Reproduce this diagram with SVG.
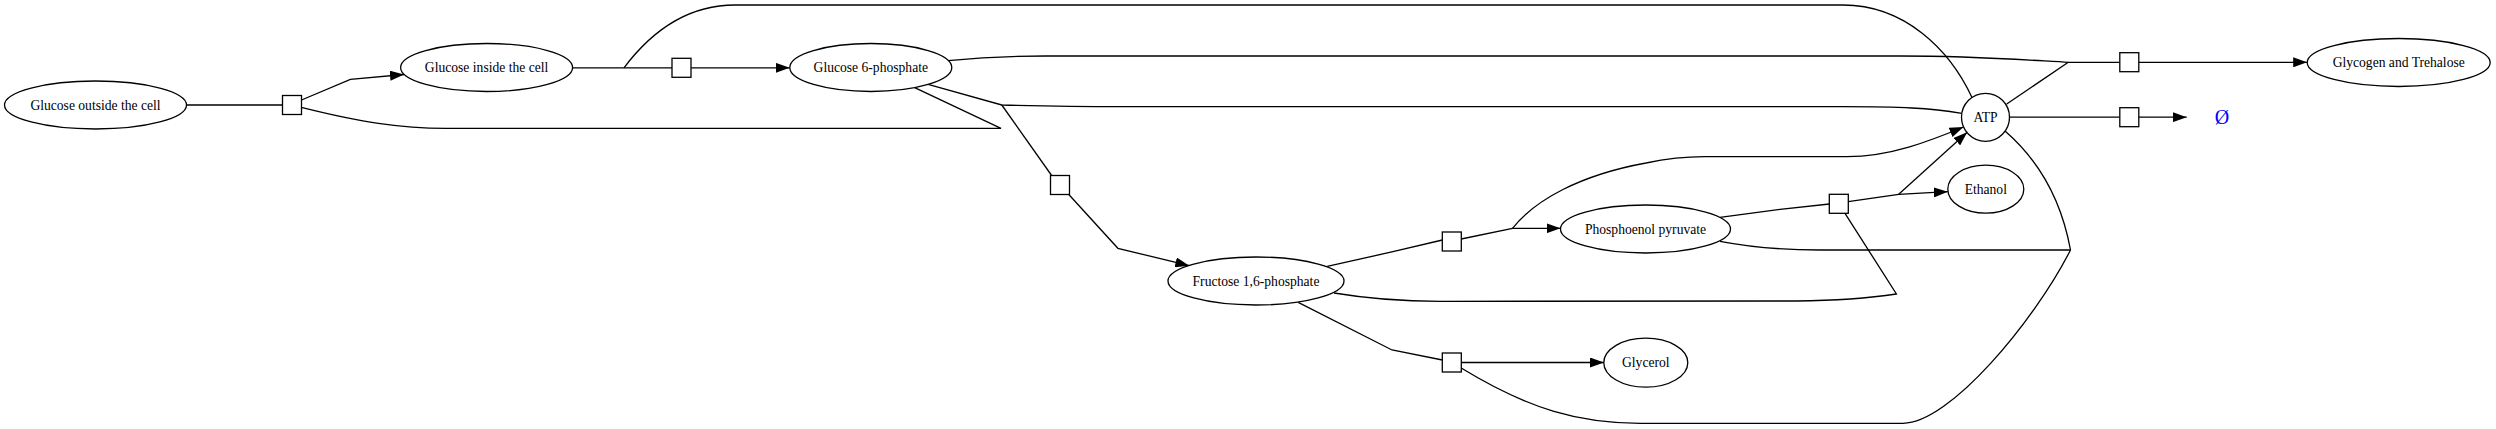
<svg xmlns="http://www.w3.org/2000/svg" width="2496" height="429" viewBox="0 0 2496 429">
<style>
.node ellipse, .node circle { fill: #fff; stroke: #000; stroke-width: 1.3; }
.rxn rect { fill: #fff; stroke: #000; stroke-width: 1.3; }
.lbl { font-family: "Liberation Serif", "Times New Roman", serif; font-size: 13.6px; fill: #000; text-anchor: middle; }
.edges path { fill: none; stroke: #000; stroke-width: 1.3; }
.arr { marker-end: url(#ah); }
</style>
<defs>
<marker id="ah" markerUnits="userSpaceOnUse" markerWidth="14" markerHeight="10" refX="14" refY="5" orient="auto">
<path d="M0,0 L14,5 L0,10 z" fill="#000"/>
</marker>
</defs>
<rect width="2496" height="429" fill="#fff"/>
<g id="connectors" class="edges">
<path d="M186.5,105 L282.5,105"/>
<path class="arr" d="M301.5,100 L350.4,79.3 L404,74.5"/>
<path d="M301.3,107.3 C360,122 400,128.3 446,128.3 L1001,128.3 L914.7,87.7"/>
<path d="M572.8,67.8 L672,67.8"/>
<path d="M624,67.8 C660,20 700,5 735,5 L1843,5 C1905,5 1950,50 1972,97.5"/>
<path class="arr" d="M691,67.8 L789.7,67.8"/>
<path d="M948.2,60.7 C980,57.5 1010,56 1046,56 L1900,56 C1980,56 2040,61 2068.3,62.3 L2119.5,62.3"/>
<path d="M2006.7,104 L2068.3,62.3"/>
<path class="arr" d="M2139,62.3 L2307.2,62.3"/>
<path d="M928.1,84.3 L1001.8,105 C1040,106 1080,106.7 1120,106.7 L1843,106.7 C1900,106.7 1930,108 1961.8,113.3"/>
<path d="M1001.8,105 L1052,176"/>
<path class="arr" d="M1068.8,194.5 L1117.9,248.3 L1189.3,265.7"/>
<path d="M1327.2,266.3 L1392.9,251.7 L1442.4,240"/>
<path class="arr" d="M1461.2,239 L1512.5,228.3 L1560.5,228.3"/>
<path class="arr" d="M1512.5,228.3 C1535,200 1580,175 1646,163 C1670,158 1690,156.7 1704.5,156.7 L1847,156.7 C1890,156.7 1930,141 1963.5,127"/>
<path d="M1720,217.3 L1780,209.3 L1829.5,204"/>
<path class="arr" d="M1848.2,201.7 L1898.7,194.3 L1947.8,191.7"/>
<path class="arr" d="M1898.7,194.3 L1967.2,132.3"/>
<path d="M1334,293 C1370,299 1400,301.3 1440,301.3 L1796,301 C1840,300.5 1870,298 1896.4,294 L1845,213.3"/>
<path d="M1298.2,302.3 L1392,350 L1442.4,360"/>
<path class="arr" d="M1461.2,362.5 L1604,362.5"/>
<path d="M1461.2,368 C1530,410 1580,423.3 1640,423.3 L1903,423.3 C1950,423.3 2035,320 2070.5,250"/>
<path d="M1720,241.3 C1750,247 1780,250 1820,250 L2070.5,250"/>
<path d="M2070.5,250 C2065,220 2050,170 2005,131"/>
<path d="M2009.5,117.2 L2119.5,117.2"/>
<path class="arr" d="M2139,117.2 L2186.7,117.2"/>
</g>
<g id="glucose_outside" class="node"><ellipse cx="95.5" cy="105" rx="91" ry="24"/><text class="lbl" x="95.5" y="109.5">Glucose outside the cell</text></g>
<g id="glucose_inside" class="node"><ellipse cx="486.6" cy="67.5" rx="86" ry="24"/><text class="lbl" x="486.6" y="72">Glucose inside the cell</text></g>
<g id="glucose_6p" class="node"><ellipse cx="870.8" cy="67.5" rx="81" ry="24"/><text class="lbl" x="870.8" y="72">Glucose 6-phosphate</text></g>
<g id="fructose_16p" class="node"><ellipse cx="1256" cy="281" rx="88" ry="24"/><text class="lbl" x="1256" y="285.5">Fructose 1,6-phosphate</text></g>
<g id="pep" class="node"><ellipse cx="1645.5" cy="229" rx="85" ry="24"/><text class="lbl" x="1645.5" y="233.5">Phosphoenol pyruvate</text></g>
<g id="glycerol" class="node"><ellipse cx="1645.8" cy="362.7" rx="42" ry="24.5"/><text class="lbl" x="1645.8" y="367.2">Glycerol</text></g>
<g id="atp" class="node"><circle cx="1985.5" cy="117.3" r="24"/><text class="lbl" x="1985.5" y="121.8">ATP</text></g>
<g id="ethanol" class="node"><ellipse cx="1985.8" cy="189.2" rx="38" ry="24"/><text class="lbl" x="1985.8" y="193.7">Ethanol</text></g>
<g id="glycogen" class="node"><ellipse cx="2398.7" cy="62.5" rx="91.5" ry="24"/><text class="lbl" x="2398.7" y="67">Glycogen and Trehalose</text></g>
<g id="empty" class="node"><text x="2222" y="123.5" font-family="Liberation Serif, Times New Roman, serif" font-size="20" fill="#0000ff" text-anchor="middle">Ø</text></g>
<g id="r1" class="rxn"><rect x="282.5" y="95.5" width="19" height="19"/></g>
<g id="r2" class="rxn"><rect x="672" y="58.3" width="19" height="19"/></g>
<g id="r3" class="rxn"><rect x="1050.5" y="175.5" width="19" height="19"/></g>
<g id="r4" class="rxn"><rect x="1442.3" y="232" width="19" height="19"/></g>
<g id="r5" class="rxn"><rect x="1829.3" y="194.3" width="19" height="19"/></g>
<g id="r6" class="rxn"><rect x="1442.3" y="353" width="19" height="19"/></g>
<g id="r7" class="rxn"><rect x="2119.8" y="52.7" width="19" height="19"/></g>
<g id="r8" class="rxn"><rect x="2119.8" y="107.7" width="19" height="19"/></g>
</svg>
